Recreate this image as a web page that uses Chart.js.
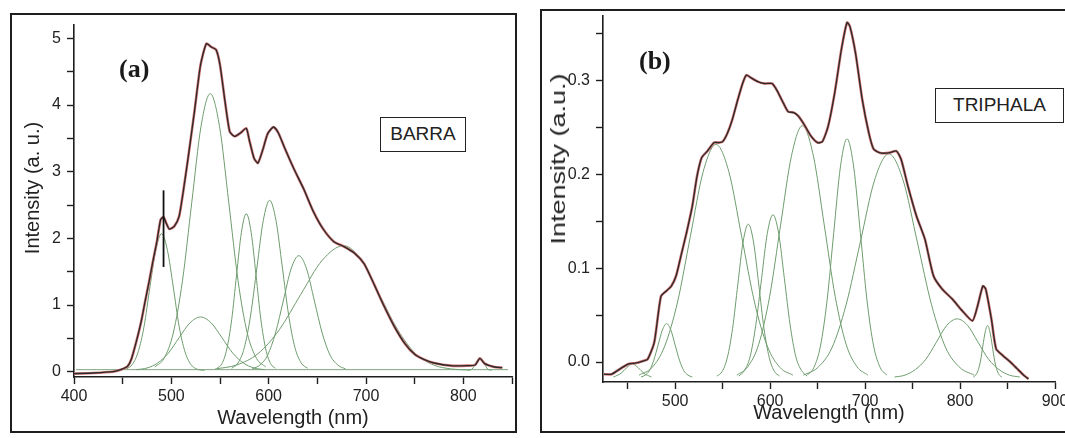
<!DOCTYPE html>
<html>
<head>
<meta charset="utf-8">
<script src="https://cdn.jsdelivr.net/npm/chart.js@4.4.0/dist/chart.umd.min.js"></script>
<style>
html, body { margin: 0; padding: 0; background: #fff; width: 1065px; height: 438px; overflow: hidden; position: relative; font-family: "Liberation Sans", Arial, sans-serif; }
.frame { position: absolute; border: 2px solid #1e1e1e; box-sizing: border-box; }
canvas { position: absolute; top: 0; }
.tag { position: absolute; font-family: "Liberation Serif", serif; font-weight: bold; font-size: 26px; color: #1a1a1a; line-height: 28px; }
.box { position: absolute; border: 1.5px solid #222; font-size: 19px; color: #222; text-align: center; box-sizing: border-box; background: #fff; }
.ytitle { position: absolute; width: 180px; height: 24px; line-height: 24px; font-size: 20px; color: #222; text-align: center; transform: rotate(-90deg); white-space: nowrap; }
</style>
</head>
<body>
<div class="frame" style="left:10px; top:13px; width:507px; height:420px;"></div>
<div class="frame" style="left:540px; top:9px; width:540px; height:424px;"></div>

<canvas id="chartA" width="530" height="438" style="left:0px;"></canvas>
<canvas id="chartB" width="560" height="438" style="left:530px;"></canvas>

<div class="ytitle" style="left:-58px; top:176px;">Intensity (a. u.)</div>
<div class="ytitle" style="left:468px; top:147px; transform: rotate(-90deg) scaleX(1.35);">Intensity (a.u.)</div>
<div class="tag" style="left:119px; top:55px;">(a)</div>
<div class="tag" style="left:639px; top:47px;">(b)</div>
<div class="box" style="left:380px; top:117px; width:86px; height:35px; line-height:32px;">BARRA</div>
<div class="box" style="left:935px; top:88px; width:129px; height:35px; line-height:32px;">TRIPHALA</div>

<script>
// ---- panel (a) BARRA: measured spectrum and fitted bands [wavelength nm, intensity]
var barraSpectrum = [[400,-0.03],[420,-0.02],[440,0.0],[448,0.03],[455,0.08],[459,0.19],[464,0.45],[469,0.75],[473,1.05],[477,1.34],[481,1.65],[485,1.94],[489,2.28],[492,2.32],[495,2.22],[498,2.14],[503,2.18],[508,2.33],[512,2.68],[517,3.18],[524,3.93],[530,4.6],[536,4.92],[541,4.87],[546,4.83],[550,4.6],[555,4.07],[560,3.6],[565,3.53],[571,3.58],[577,3.65],[580,3.48],[585,3.2],[589,3.13],[594,3.33],[599,3.57],[605,3.67],[610,3.58],[616,3.37],[626,3.04],[636,2.74],[646,2.4],[656,2.14],[667,1.95],[677,1.88],[688,1.78],[698,1.62],[708,1.32],[718,1.0],[729,0.68],[740,0.42],[750,0.26],[760,0.18],[770,0.13],[787,0.09],[804,0.09],[812,0.1],[817,0.2],[822,0.12],[832,0.07],[840,0.06]];
var barraBand1 = [[454,0.04],[460,0.11],[466,0.30],[472,0.68],[478,1.27],[484,1.82],[490,2.07],[496,1.82],[502,1.27],[508,0.68],[514,0.30],[520,0.11],[526,0.04],[534,0.02]];
var barraBand2 = [[483,0.07],[492.5,0.20],[502,0.58],[511.5,1.37],[521,2.54],[530.5,3.68],[540,4.17],[549.5,3.68],[559,2.54],[568.5,1.37],[578,0.58],[587.5,0.20],[597,0.07]];
var barraBand3 = [[464,0.03],[475,0.055],[486,0.13],[497,0.28],[508,0.51],[519,0.73],[530,0.82],[541,0.73],[552,0.51],[563,0.28],[574,0.13],[585,0.055],[596,0.03]];
var barraBand4 = [[547,0.05],[552,0.12],[557,0.34],[562,0.78],[567,1.45],[572,2.09],[577,2.37],[582,2.09],[587,1.45],[592,0.78],[597,0.34],[602,0.12],[607,0.05]];
var barraBand5 = [[562,0.05],[568.5,0.13],[575,0.36],[581.5,0.85],[588,1.57],[594.5,2.27],[601,2.57],[607.5,2.27],[614,1.57],[620.5,0.85],[627,0.36],[633.5,0.13],[640,0.05]];
var barraBand6 = [[583,0.04],[591,0.10],[599,0.25],[607,0.58],[615,1.06],[623,1.54],[631,1.74],[639,1.54],[647,1.06],[655,0.58],[663,0.25],[671,0.10],[679,0.04]];
var barraBand7 = [[545,0.04],[567,0.10],[589,0.27],[611,0.63],[633,1.16],[655,1.67],[677,1.89],[695.5,1.67],[714,1.15],[732.5,0.63],[751,0.27],[769.5,0.10],[788,0.04],[806,0.025]];
var barraBand8 = [[805,0.02],[809,0.04],[813,0.13],[817,0.2],[821,0.13],[825,0.04],[829,0.02]];
var barraBaseline = [[402,0.03],[846,0.03]];
var barraMarker = [[492,1.57],[492,2.72]];

// ---- panel (b) TRIPHALA
var triSpectrum = [[425,-0.013],[433,-0.013],[444,-0.006],[451,-0.002],[459,-0.001],[466,0.001],[471,0.003],[478,0.021],[485,0.07],[491,0.076],[496,0.081],[501,0.092],[507,0.117],[512,0.138],[518,0.166],[523,0.198],[528,0.218],[534,0.225],[541,0.234],[546,0.234],[550,0.235],[555,0.244],[560,0.258],[566,0.28],[571,0.297],[575,0.306],[580,0.303],[587,0.299],[594,0.297],[602,0.297],[607,0.29],[614,0.276],[619,0.267],[625,0.266],[630,0.262],[636,0.253],[643,0.241],[650,0.234],[655,0.235],[661,0.251],[668,0.287],[675,0.333],[681,0.362],[684,0.358],[690,0.329],[697,0.28],[704,0.244],[709,0.227],[716,0.223],[725,0.223],[733,0.225],[738,0.216],[745,0.188],[754,0.156],[763,0.131],[772,0.092],[781,0.078],[792,0.067],[802,0.055],[813,0.044],[818,0.058],[824,0.081],[827,0.078],[833,0.046],[838,0.014],[845,0.007],[853,0],[860,-0.007],[867,-0.014],[872,-0.018]];
var triBand1 = [[435,-0.016],[443,-0.012],[449,-0.006],[455,-0.002],[461,-0.006],[467,-0.012],[475,-0.016]];
var triBand2 = [[464,-0.016],[468.5,-0.014],[473,-0.009],[477.5,0.002],[482,0.018],[486.5,0.034],[491,0.041],[495.5,0.034],[500,0.018],[504.5,0.002],[509,-0.009],[513.5,-0.014],[518,-0.016]];
var triBand3 = [[462,-0.014],[475.5,-0.006],[489,0.017],[502.5,0.064],[516,0.134],[529.5,0.203],[543,0.232],[556.5,0.203],[570,0.134],[583.5,0.064],[597,0.017],[610.5,-0.006],[624,-0.014]];
var triBand4 = [[544,-0.015],[549.5,-0.010],[555,0.005],[560.5,0.036],[566,0.083],[571.5,0.128],[577,0.147],[582.5,0.128],[588,0.083],[593.5,0.036],[599,0.005],[604.5,-0.010],[610,-0.015]];
var triBand5 = [[567,-0.015],[573,-0.009],[579,0.006],[585,0.040],[591,0.089],[597,0.137],[603,0.157],[609,0.137],[615,0.089],[621,0.040],[627,0.006],[633,-0.009],[639,-0.015]];
var triBand6 = [[565,-0.014],[576.5,-0.005],[588,0.019],[599.5,0.070],[611,0.146],[622.5,0.220],[634,0.252],[645.5,0.220],[657,0.146],[668.5,0.070],[680,0.019],[691.5,-0.005],[703,-0.014]];
var triBand7 = [[639,-0.014],[646,-0.006],[653,0.017],[660,0.066],[667,0.138],[674,0.208],[681,0.238],[688,0.208],[695,0.138],[702,0.066],[709,0.017],[716,-0.006],[723,-0.014]];
var triBand8 = [[635,-0.014],[650,-0.006],[665,0.015],[680,0.061],[695,0.128],[710,0.194],[725,0.222],[740,0.194],[755,0.128],[770,0.061],[785,0.015],[800,-0.006],[815,-0.014]];
var triBand9 = [[731,-0.016],[742,-0.014],[753,-0.008],[764,0.003],[775,0.021],[786,0.039],[797,0.046],[808,0.039],[819,0.021],[830,0.003],[841,-0.008],[852,-0.014],[863,-0.016]];
var triBand10 = [[814,-0.016],[816.5,-0.014],[819,-0.009],[821.5,0.001],[824,0.017],[826.5,0.032],[829,0.039],[831.5,0.032],[834,0.017],[836.5,0.001],[839,-0.009],[841.5,-0.014],[844,-0.016]];

// axis ranges / ticks
var barraX = { min: 400, max: 850, step: 50, major: 100 };
var barraY = { min: -0.08, max: 5.2, step: 0.5, major: 1 };
var triX = { min: 424, max: 900, step: 50, major: 100 };
var triY = { min: -0.0213, max: 0.369, step: 0.05, major: 0.1 };

function pts(arr) {
    return arr.map(function (p) { return { x: p[0], y: p[1] }; });
}

function band(arr) {
    return { data: pts(arr), borderColor: "#6e9c6e", borderWidth: 1, pointRadius: 0, cubicInterpolationMode: "monotone", order: 3 };
}

function isMajor(v, major) {
    var r = v / major;
    return Math.abs(r - Math.round(r)) < 1e-6;
}

function makeChart(id, bands, spectrum, extra, xr, yr, lay) {
    var datasets = bands.map(band);
    extra.forEach(function (d) { datasets.push(d); });
    // fitted curve (red) drawn under the measured one (dark); lower order = on top
    datasets.push({ data: pts(spectrum), borderColor: "#d07272", borderWidth: 2.6, pointRadius: 0, tension: 0.2, order: 1 });
    datasets.push({ data: pts(spectrum), borderColor: "#2a2a2a", borderWidth: 1.3, pointRadius: 0, tension: 0.2, order: 0 });

    return new Chart(document.getElementById(id), {
        type: "scatter",
        data: { datasets: datasets },
        options: {
            responsive: false,
            animation: false,
            devicePixelRatio: 1,
            showLine: true,
            layout: { padding: { left: 0, top: lay.top, right: lay.right, bottom: 0 } },
            plugins: { legend: { display: false }, tooltip: { enabled: false } },
            scales: {
                x: {
                    type: "linear",
                    min: xr.min, max: xr.max,
                    afterFit: function (s) { s.height = lay.xh; },
                    border: { display: true, color: "#1e1e1e", width: 1.6 },
                    grid: { drawOnChartArea: false, drawTicks: true, tickLength: 7, tickColor: "#1e1e1e", tickWidth: 1.4 },
                    ticks: {
                        stepSize: xr.step, includeBounds: false, autoSkip: false, maxRotation: 0, padding: 3,
                        color: "#222", font: { family: "Liberation Sans", size: 16 },
                        callback: function (v) { return isMajor(v, xr.major) ? String(v) : ""; }
                    },
                    title: { display: true, text: "Wavelength (nm)", color: "#222", font: { family: "Liberation Sans", size: 20 }, padding: { top: 0, bottom: lay.tb } }
                },
                y: {
                    min: yr.min, max: yr.max,
                    afterFit: function (s) { s.width = lay.yw; },
                    border: { display: true, color: "#1e1e1e", width: 1.6 },
                    grid: { drawOnChartArea: false, drawTicks: true, tickLength: 7, tickColor: "#1e1e1e", tickWidth: 1.4 },
                    ticks: {
                        stepSize: yr.step, includeBounds: false, autoSkip: false, padding: 6,
                        color: "#222", font: { family: "Liberation Sans", size: 16 },
                        callback: function (v) {
                            if (!isMajor(v, yr.major)) return "";
                            return yr.major < 1 ? v.toFixed(1) : String(Math.round(v));
                        }
                    }
                }
            }
        }
    });
}

var markerSet = { data: pts(barraMarker), borderColor: "#111", borderWidth: 1.8, pointRadius: 0, order: 0 };
var baseSet = { data: pts(barraBaseline), borderColor: "#7fa57f", borderWidth: 1, pointRadius: 0, order: 3 };

makeChart("chartA",
    [barraBand1, barraBand2, barraBand3, barraBand4, barraBand5, barraBand6, barraBand7, barraBand8],
    barraSpectrum, [baseSet, markerSet], barraX, barraY,
    { top: 25, right: 18, xh: 61, yw: 74, tb: 8 });

makeChart("chartB",
    [triBand1, triBand2, triBand3, triBand4, triBand5, triBand6, triBand7, triBand8, triBand9, triBand10],
    triSpectrum, [], triX, triY,
    { top: 16, right: 35, xh: 56, yw: 73, tb: 13 });
</script>
</body>
</html>
